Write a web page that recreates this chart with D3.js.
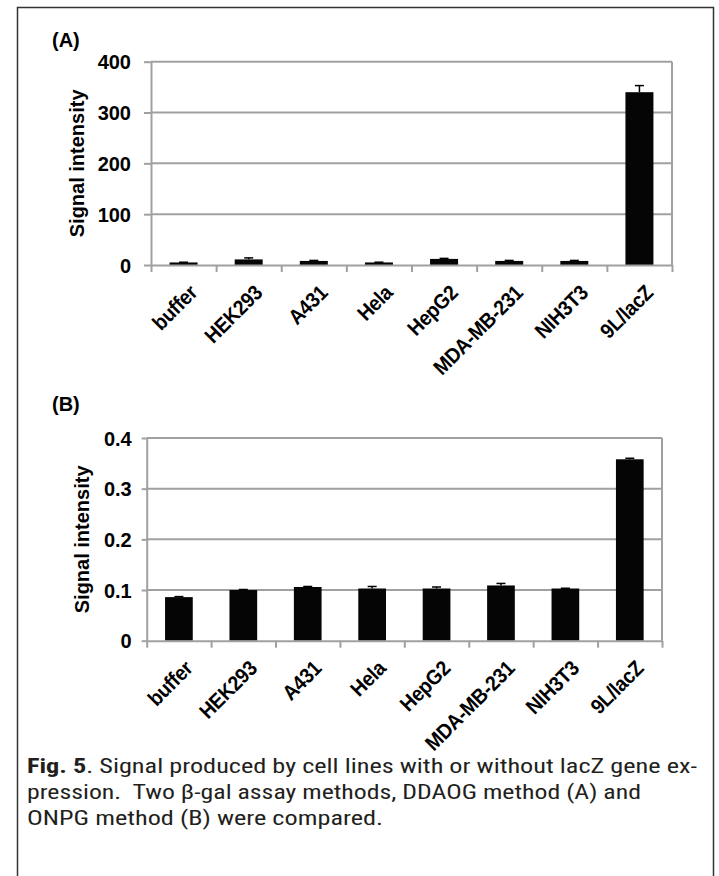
<!DOCTYPE html>
<html>
<head>
<meta charset="utf-8">
<script src="https://cdn.jsdelivr.net/npm/d3@7"></script>
<style>
  html, body { margin: 0; padding: 0; background: #fff; }
  svg { display: block; }
  .axis text { font-family: "Liberation Sans", Arial, sans-serif; font-weight: bold; font-size: 20px; fill: #000; }
</style>
</head>
<body>
<div id="fig"></div>
<script>
// cell lines on the x axis
const categories = ['buffer', 'HEK293', 'A431', 'Hela', 'HepG2', 'MDA-MB-231', 'NIH3T3', '9L/lacZ'];

// (A) DDAOG method
const ddaogValues = [5, 11, 8, 5, 12, 8, 8, 340];
const ddaogErrors = [0.5, 3, 1, 0.5, 1, 1, 1, 13];
const ddaogTicks = [0, 100, 200, 300, 400];

// (B) ONPG method
const onpgValues = [0.086, 0.100, 0.106, 0.103, 0.103, 0.109, 0.103, 0.358];
const onpgErrors = [0.001, 0.001, 0.001, 0.004, 0.003, 0.004, 0.0005, 0.002];
const onpgTicks = [0, 0.1, 0.2, 0.3, 0.4];

const captionLines = [
  ['Fig. 5', '. Signal produced by cell lines with or without lacZ gene ex-'],
  ['', 'pression.\u00a0 Two \u03b2-gal assay methods, DDAOG method (A) and'],
  ['', 'ONPG method (B) were compared.']
];

const W = 719, H = 876;
const grid = '#a0a0a0';

const svg = d3.select('#fig').append('svg')
  .attr('width', W)
  .attr('height', H);

svg.append('rect').attr('width', W).attr('height', H).attr('fill', '#fff');

// outer frame (bottom edge runs off the page)
svg.append('rect')
  .attr('x', 17.5).attr('y', 7.5)
  .attr('width', 696).attr('height', 900)
  .attr('fill', 'none')
  .attr('stroke', '#333')
  .attr('stroke-width', 1.5);

function panel(opts) {
  const { left, right, top, bottom, max, ticks, values, errors, fmt, tickSize, tickPad, label, labelY, titleX } = opts;

  const x = d3.scaleBand()
    .domain(categories)
    .range([left, right])
    .paddingInner(0.57)
    .paddingOuter(0.285);

  const y = d3.scaleLinear()
    .domain([0, max])
    .range([bottom, top]);

  const g = svg.append('g');

  // gridlines
  g.append('g')
    .selectAll('line')
    .data(ticks.slice(1))
    .enter().append('line')
    .attr('x1', left).attr('x2', right)
    .attr('y1', d => y(d)).attr('y2', d => y(d))
    .attr('stroke', grid)
    .attr('stroke-width', 2);

  // right border of plot area
  g.append('line')
    .attr('x1', right).attr('x2', right)
    .attr('y1', top).attr('y2', bottom)
    .attr('stroke', grid)
    .attr('stroke-width', 2);

  // bars
  g.append('g')
    .selectAll('rect')
    .data(values)
    .enter().append('rect')
    .attr('x', (d, i) => x(categories[i]))
    .attr('y', d => y(d))
    .attr('width', x.bandwidth())
    .attr('height', d => bottom - y(d))
    .attr('fill', '#050505');

  // error bars (upper half shows above the bar)
  const eb = g.append('g')
    .attr('stroke', '#000')
    .attr('stroke-width', 1.5)
    .selectAll('g')
    .data(values)
    .enter().append('g');

  eb.append('line')
    .attr('x1', (d, i) => x(categories[i]) + x.bandwidth() / 2)
    .attr('x2', (d, i) => x(categories[i]) + x.bandwidth() / 2)
    .attr('y1', d => y(d))
    .attr('y2', (d, i) => y(d + errors[i]));

  eb.append('line')
    .attr('x1', (d, i) => x(categories[i]) + x.bandwidth() / 2 - 4.5)
    .attr('x2', (d, i) => x(categories[i]) + x.bandwidth() / 2 + 4.5)
    .attr('y1', (d, i) => y(d + errors[i]))
    .attr('y2', (d, i) => y(d + errors[i]));

  // y axis
  const yAxis = g.append('g')
    .attr('class', 'axis')
    .attr('transform', 'translate(' + left + ',0)')
    .call(d3.axisLeft(y).tickValues(ticks).tickFormat(fmt).tickSize(tickSize).tickSizeOuter(0).tickPadding(tickPad));
  yAxis.selectAll('path, line').attr('stroke', grid).attr('stroke-width', 2);
  yAxis.selectAll('text').attr('dy', '0.36em');

  // x axis: ticks sit on the category boundaries
  const xb = d3.scaleLinear().domain([0, categories.length]).range([left, right]);
  const xAxis = g.append('g')
    .attr('class', 'axis')
    .attr('transform', 'translate(0,' + bottom + ')')
    .call(d3.axisBottom(xb).tickValues(d3.range(categories.length + 1)).tickFormat('').tickSize(7).tickSizeOuter(0));
  xAxis.selectAll('path, line').attr('stroke', grid).attr('stroke-width', 2);

  // slanted category labels (slightly condensed, like the original)
  g.append('g')
    .selectAll('text')
    .data(categories)
    .enter().append('text')
    .attr('transform', d => 'translate(' + (x(d) + x.bandwidth() / 2 + 15) + ',' + (bottom + 29) + ') rotate(-45) scale(0.92,1)')
    .attr('text-anchor', 'end')
    .attr('font-family', '"Liberation Sans", Arial, sans-serif')
    .attr('font-weight', 'bold')
    .attr('font-size', 21)
    .attr('letter-spacing', -0.3)
    .text(d => d);

  // axis title
  g.append('text')
    .attr('transform', 'translate(' + titleX + ',' + ((top + bottom) / 2) + ') rotate(-90)')
    .attr('text-anchor', 'middle')
    .attr('dy', '0.35em')
    .attr('font-family', '"Liberation Sans", Arial, sans-serif')
    .attr('font-weight', 'bold')
    .attr('font-size', 20)
    .text('Signal intensity');

  // panel letter
  g.append('text')
    .attr('x', 52).attr('y', labelY)
    .attr('font-family', '"Liberation Sans", Arial, sans-serif')
    .attr('font-weight', 'bold')
    .attr('font-size', 20)
    .text(label);
}

panel({
  left: 151, right: 672, top: 61.7, bottom: 265,
  max: 400, ticks: ddaogTicks, values: ddaogValues, errors: ddaogErrors,
  fmt: d3.format('d'), tickSize: 7, tickPad: 13,
  label: '(A)', labelY: 47, titleX: 77
});

panel({
  left: 146.7, right: 662, top: 438, bottom: 640.7,
  max: 0.4, ticks: onpgTicks, values: onpgValues, errors: onpgErrors,
  fmt: d => d === 0 ? '0' : d3.format('.1f')(d), tickSize: 5, tickPad: 10,
  label: '(B)', labelY: 411, titleX: 82
});

// caption
const cap = svg.append('g')
  .attr('font-family', '"Liberation Sans Narrow", "Roboto Condensed", "DejaVu Sans Condensed", "Liberation Sans", sans-serif')
  .attr('font-size', 21)
  .attr('fill', '#231f20');

const capWidths = [670, 614, 356];
captionLines.forEach((ln, i) => {
  const t = cap.append('text')
    .attr('x', 27)
    .attr('y', 773 + i * 26)
    .attr('textLength', capWidths[i])
    .attr('lengthAdjust', 'spacingAndGlyphs');
  if (ln[0]) t.append('tspan').attr('font-weight', 'bold').text(ln[0]);
  t.append('tspan').text(ln[1]);
});
</script>
</body>
</html>
